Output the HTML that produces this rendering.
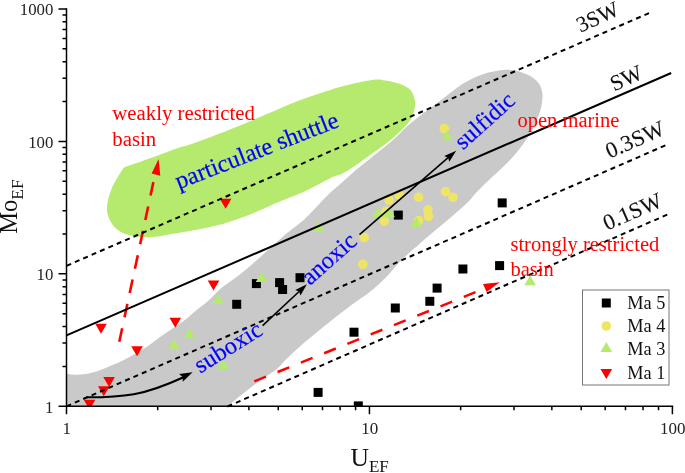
<!DOCTYPE html>
<html><head><meta charset="utf-8"><title>Mo-EF vs U-EF</title>
<style>html,body{margin:0;padding:0;background:#fff}svg{display:block}text{font-family:"Liberation Serif",serif}</style></head><body>
<svg width="685" height="473" viewBox="0 0 685 473">
<rect width="685" height="473" fill="#fff"/>
<defs><clipPath id="plot"><rect x="66.5" y="0" width="618.5" height="406.3"/></clipPath></defs>
<g clip-path="url(#plot)">
<path d="M66.0,373.5 C67.5,373.7 72.0,374.7 75.2,374.8 C78.4,374.9 81.6,374.7 85.4,374.1 C89.2,373.5 93.8,372.4 98.0,371.0 C102.2,369.6 106.5,367.6 110.7,365.8 C114.9,364.0 119.2,362.3 123.4,360.2 C127.6,358.1 131.9,355.8 136.1,353.3 C140.3,350.8 144.6,348.3 148.8,345.4 C153.0,342.5 157.2,339.0 161.4,336.0 C165.6,333.0 169.9,330.4 174.1,327.5 C178.3,324.6 183.2,321.2 186.8,318.5 C190.4,315.8 191.9,313.9 195.4,311.0 C198.9,308.1 203.8,304.7 208.0,301.0 C212.2,297.3 216.5,292.2 220.7,288.6 C224.9,285.0 229.2,282.5 233.4,279.3 C237.6,276.1 241.9,273.0 246.1,269.5 C250.3,266.0 254.6,262.1 258.8,258.3 C263.0,254.6 267.2,250.8 271.4,247.0 C275.6,243.2 279.9,239.1 284.1,235.5 C288.3,231.9 293.2,228.4 296.8,225.5 C300.4,222.6 301.9,221.7 305.4,218.3 C308.9,214.9 313.8,209.5 318.0,205.2 C322.2,200.9 326.5,196.3 330.7,192.3 C334.9,188.3 339.2,185.1 343.4,181.3 C347.6,177.6 351.9,173.4 356.1,169.8 C360.3,166.2 364.6,163.1 368.8,159.7 C373.0,156.3 377.2,152.9 381.4,149.5 C385.6,146.1 389.9,142.8 394.1,139.0 C398.3,135.2 402.1,130.7 406.8,126.5 C411.5,122.3 418.0,117.4 422.3,114.0 C426.6,110.6 429.3,108.9 432.8,106.3 C436.3,103.7 439.9,101.0 443.4,98.3 C446.9,95.6 450.3,92.8 453.8,90.2 C457.3,87.6 460.4,85.2 464.5,82.8 C468.6,80.4 473.7,77.8 478.1,76.0 C482.5,74.2 486.6,73.0 490.8,72.0 C495.0,71.0 499.3,70.1 503.5,69.9 C507.7,69.7 511.9,69.8 516.1,70.7 C520.3,71.6 525.1,73.3 528.8,75.3 C532.5,77.3 536.2,79.9 538.5,82.9 C540.8,85.9 541.8,89.3 542.3,93.1 C542.8,96.9 542.5,101.1 541.5,105.8 C540.5,110.5 538.6,115.8 536.4,121.0 C534.1,126.2 531.6,131.4 528.0,137.0 C524.4,142.6 519.2,149.5 515.0,154.5 C510.8,159.5 507.3,162.8 503.0,167.0 C498.7,171.2 493.3,175.9 489.0,180.0 C484.7,184.1 480.6,188.0 477.0,191.8 C473.4,195.6 471.3,199.0 467.4,202.8 C463.5,206.6 458.9,210.3 453.8,214.7 C448.7,219.1 442.5,224.2 436.9,229.0 C431.3,233.8 426.1,238.0 420.0,243.4 C413.9,248.8 405.7,255.8 400.0,261.5 C394.3,267.2 390.9,272.5 385.9,277.5 C380.9,282.5 375.2,287.5 370.0,291.7 C364.8,295.9 360.0,298.7 354.6,302.7 C349.2,306.7 343.3,311.1 337.7,315.5 C332.1,319.9 326.4,324.4 320.8,329.0 C315.2,333.6 309.5,338.1 303.8,343.0 C298.1,347.9 291.4,354.2 286.9,358.5 C282.4,362.8 281.3,365.3 276.8,369.0 C272.3,372.7 266.1,376.0 260.0,380.5 C253.9,385.0 245.4,391.7 240.0,396.0 C234.6,400.3 229.6,404.8 227.5,406.5 L66,406.5 Z" fill="#c9c9c9"/>
<path d="M127.0,166.3 C123.3,167.7 125.0,167.0 124.2,167.6 C123.4,168.2 124.3,166.5 122.2,170.0 C120.1,173.5 114.1,182.6 111.6,188.8 C109.1,195.0 107.2,202.0 107.0,207.4 C106.8,212.8 108.2,217.3 110.5,221.4 C112.8,225.5 116.1,229.3 120.9,231.9 C125.7,234.5 133.3,236.0 139.5,236.8 C145.7,237.6 153.0,236.9 158.1,236.5 C163.2,236.1 163.8,235.4 170.0,234.3 C176.2,233.2 187.0,231.6 195.4,230.0 C203.8,228.4 212.2,226.8 220.7,224.5 C229.1,222.2 236.2,219.8 246.1,216.0 C256.0,212.2 270.1,205.7 280.0,201.5 C289.9,197.3 296.9,194.9 305.4,191.0 C313.8,187.1 324.4,181.0 330.7,178.0 C337.0,175.0 338.8,175.4 343.0,173.2 C347.2,171.0 351.9,167.8 356.1,165.0 C360.3,162.2 363.8,159.5 368.0,156.5 C372.2,153.5 377.0,150.2 381.4,147.0 C385.8,143.8 389.5,141.2 394.1,137.0 C398.7,132.8 405.8,126.2 409.1,121.8 C412.5,117.4 413.2,114.0 414.2,110.4 C415.1,106.8 415.4,103.6 414.8,100.2 C414.2,96.8 412.8,92.8 410.4,90.1 C408.0,87.4 404.4,85.6 400.2,84.0 C396.0,82.4 389.7,81.2 385.0,80.5 C380.3,79.8 379.5,78.9 372.0,80.0 C364.5,81.1 352.0,83.6 340.0,87.0 C328.0,90.4 312.2,95.8 300.0,100.3 C287.8,104.8 278.7,109.1 267.0,114.0 C255.3,118.9 242.3,124.6 230.0,129.5 C217.7,134.4 201.9,140.3 193.0,143.5 C184.1,146.7 184.4,145.8 176.7,148.5 C168.9,151.2 154.8,156.5 146.5,159.5 C138.2,162.5 130.7,165.0 127.0,166.3Z" fill="#b5ea6e"/>
</g>
<path d="M119.3,341.7 L153.5,181.7" stroke="#ff0000" stroke-width="2.6" stroke-dasharray="13.8 11.1" fill="none"/>
<path d="M158.6,158.9 L151.6,173.6 L160.3,175.8 Z" fill="#ff0000"/>
<path d="M254.3,381.4 L476.5,291.8" stroke="#ff0000" stroke-width="2.5" stroke-dasharray="12.6 12.5" fill="none"/>
<path d="M499.8,282.3 L483,284 L486.6,292 Z" fill="#ff0000"/>
<g clip-path="url(#plot)">
<rect x="232.2" y="299.8" width="9" height="9" fill="#000"/>
<rect x="251.9" y="279.1" width="9" height="9" fill="#000"/>
<rect x="275.1" y="278.1" width="9" height="9" fill="#000"/>
<rect x="278.1" y="285.0" width="9" height="9" fill="#000"/>
<rect x="295.5" y="273.2" width="9" height="9" fill="#000"/>
<rect x="349.5" y="327.7" width="9" height="9" fill="#000"/>
<rect x="393.8" y="210.6" width="9" height="9" fill="#000"/>
<rect x="497.7" y="198.4" width="9" height="9" fill="#000"/>
<rect x="313.6" y="387.9" width="9" height="9" fill="#000"/>
<rect x="353.8" y="401.4" width="9" height="9" fill="#000"/>
<rect x="390.8" y="303.5" width="9" height="9" fill="#000"/>
<rect x="425.3" y="296.8" width="9" height="9" fill="#000"/>
<rect x="432.6" y="283.6" width="9" height="9" fill="#000"/>
<rect x="458.4" y="264.5" width="9" height="9" fill="#000"/>
<rect x="495.1" y="261.1" width="9" height="9" fill="#000"/>
<circle cx="444.2" cy="128.5" r="4.8" fill="#eee567"/>
<circle cx="399.0" cy="195.0" r="4.8" fill="#eee567"/>
<circle cx="389.1" cy="200.0" r="4.8" fill="#eee567"/>
<circle cx="418.6" cy="197.3" r="4.8" fill="#eee567"/>
<circle cx="445.5" cy="191.7" r="4.8" fill="#eee567"/>
<circle cx="453.0" cy="197.3" r="4.8" fill="#eee567"/>
<circle cx="427.8" cy="209.8" r="4.8" fill="#eee567"/>
<circle cx="428.5" cy="216.3" r="4.8" fill="#eee567"/>
<circle cx="418.6" cy="220.6" r="4.8" fill="#eee567"/>
<circle cx="384.2" cy="221.2" r="4.8" fill="#eee567"/>
<circle cx="385.9" cy="211.4" r="4.8" fill="#eee567"/>
<circle cx="364.2" cy="237.5" r="4.8" fill="#eee567"/>
<circle cx="362.8" cy="264.3" r="4.8" fill="#eee567"/>
<path d="M168.2,348.8 L179.8,348.8 L174.0,338.8 Z" fill="#b5ea6e"/>
<path d="M183.6,338.3 L195.2,338.3 L189.4,328.3 Z" fill="#b5ea6e"/>
<path d="M212.2,303.9 L223.8,303.9 L218.0,293.9 Z" fill="#b5ea6e"/>
<path d="M217.0,369.1 L228.6,369.1 L222.8,359.1 Z" fill="#b5ea6e"/>
<path d="M255.8,281.9 L267.4,281.9 L261.6,271.9 Z" fill="#b5ea6e"/>
<path d="M312.8,231.8 L324.4,231.8 L318.6,221.8 Z" fill="#b5ea6e"/>
<path d="M441.3,140.3 L452.9,140.3 L447.1,130.3 Z" fill="#b5ea6e"/>
<path d="M371.9,217.3 L383.5,217.3 L377.7,207.3 Z" fill="#b5ea6e"/>
<path d="M383.3,217.3 L394.9,217.3 L389.1,207.3 Z" fill="#b5ea6e"/>
<path d="M410.5,227.2 L422.1,227.2 L416.3,217.2 Z" fill="#b5ea6e"/>
<path d="M524.3,285.3 L535.9,285.3 L530.1,275.3 Z" fill="#b5ea6e"/>
<path d="M83.7,399.7 L95.3,399.7 L89.5,409.7 Z" fill="#ff0000"/>
<path d="M98.0,386.3 L109.6,386.3 L103.8,396.3 Z" fill="#ff0000"/>
<path d="M103.3,377.1 L114.9,377.1 L109.1,387.1 Z" fill="#ff0000"/>
<path d="M95.2,323.7 L106.8,323.7 L101.0,333.7 Z" fill="#ff0000"/>
<path d="M131.2,346.3 L142.8,346.3 L137.0,356.3 Z" fill="#ff0000"/>
<path d="M169.5,317.8 L181.1,317.8 L175.3,327.8 Z" fill="#ff0000"/>
<path d="M207.7,280.5 L219.3,280.5 L213.5,290.5 Z" fill="#ff0000"/>
<path d="M219.8,198.8 L231.4,198.8 L225.6,208.8 Z" fill="#ff0000"/>
</g>
<path d="M86.2,397.3 C105,397.4 120,396.6 133.8,394.2 C150,391.4 166,385.2 183.5,377.2" stroke="#000" stroke-width="2.1" fill="none"/>
<path d="M192.6,372.2 L182.8,381.7 L182.6,377.1 L179.1,374.1 Z" fill="#000"/>
<path d="M306.9,284.2 L300.5,295.6 L299.1,291.5 L295.2,289.9 Z" fill="#000"/>
<path d="M262.6,325.65 L299.1,291.5" stroke="#000" stroke-width="1.6" fill="none"/>
<path d="M456.2,150.7 L449.3,161.8 L448.1,157.7 L444.2,155.9 Z" fill="#000"/>
<path d="M359.5,234.6 L448.1,157.7" stroke="#000" stroke-width="1.6" fill="none"/>
<line x1="66.5" y1="265.8" x2="649.8" y2="12.8" stroke="#000" stroke-width="2.0" stroke-dasharray="5.0 4.13"/>
<line x1="66.5" y1="335.4" x2="671.2" y2="73.0" stroke="#000" stroke-width="2.0"/>
<line x1="66.5" y1="406.3" x2="665.8" y2="145.2" stroke="#000" stroke-width="2.0" stroke-dasharray="5.0 4.13"/>
<line x1="227.5" y1="406.5" x2="668.7" y2="214.0" stroke="#000" stroke-width="2.0" stroke-dasharray="5.0 4.13"/>
<path d="M66.5,8.2 L66.5,406.3 L673.1999999999999,406.3" stroke="#000" stroke-width="1.5" fill="none"/>
<path d="M58.5,406.30 H66.5 M62.5,366.43 H66.5 M62.5,343.11 H66.5 M62.5,326.57 H66.5 M62.5,313.73 H66.5 M62.5,303.25 H66.5 M62.5,294.38 H66.5 M62.5,286.70 H66.5 M62.5,279.93 H66.5 M58.5,273.87 H66.5 M62.5,234.00 H66.5 M62.5,210.68 H66.5 M62.5,194.13 H66.5 M62.5,181.30 H66.5 M62.5,170.81 H66.5 M62.5,161.95 H66.5 M62.5,154.27 H66.5 M62.5,147.49 H66.5 M58.5,141.43 H66.5 M62.5,101.57 H66.5 M62.5,78.25 H66.5 M62.5,61.70 H66.5 M62.5,48.87 H66.5 M62.5,38.38 H66.5 M62.5,29.51 H66.5 M62.5,21.83 H66.5 M62.5,15.06 H66.5 M58.5,9.00 H66.5 M66.50,406.3 V414.3 M157.70,406.3 V410.3 M211.04,406.3 V410.3 M248.89,406.3 V410.3 M278.25,406.3 V410.3 M302.24,406.3 V410.3 M322.52,406.3 V410.3 M340.09,406.3 V410.3 M355.59,406.3 V410.3 M369.45,406.3 V414.3 M460.65,406.3 V410.3 M513.99,406.3 V410.3 M551.84,406.3 V410.3 M581.20,406.3 V410.3 M605.19,406.3 V410.3 M625.47,406.3 V410.3 M643.04,406.3 V410.3 M658.54,406.3 V410.3 M672.40,406.3 V414.3" stroke="#000" stroke-width="1.5" fill="none"/>
<text x="53.3" y="412.5" font-size="16.8" text-anchor="end" fill="#222">1</text>
<text x="53.3" y="280.1" font-size="16.8" text-anchor="end" fill="#222">10</text>
<text x="53.3" y="147.6" font-size="16.8" text-anchor="end" fill="#222">100</text>
<text x="53.3" y="15.2" font-size="16.8" text-anchor="end" fill="#222">1000</text>
<text x="66.8" y="434.2" font-size="17" text-anchor="middle" fill="#222">1</text>
<text x="369.8" y="434.2" font-size="17" text-anchor="middle" fill="#222">10</text>
<text x="672.7" y="434.2" font-size="17" text-anchor="middle" fill="#222">100</text>
<text transform="translate(16.8,233.8) rotate(-90)" font-size="24.6" fill="#111">Mo<tspan font-size="17.5" dy="5.8">EF</tspan></text>
<text x="350.5" y="466" font-size="25.6" fill="#111">U<tspan font-size="17" dy="6">EF</tspan></text>
<text x="112.3" y="119.6" font-size="20.8" fill="#ff0000">weakly restricted</text>
<text x="112.3" y="145.7" font-size="20.8" fill="#ff0000">basin</text>
<text x="517.5" y="126.9" font-size="20.5" fill="#ff0000">open marine</text>
<text x="510.4" y="251.4" font-size="20.55" fill="#ff0000">strongly restricted</text>
<text x="510.4" y="275.5" font-size="20.55" fill="#ff0000">basin</text>
<text transform="translate(178.8,189.3) rotate(-21.3)" font-size="24.3" fill="#0000ff" stroke="#0000ff" stroke-width="0.2">particulate shuttle</text>
<text transform="translate(200.3,373.7) rotate(-32.0)" font-size="24.2" fill="#0000ff" stroke="#0000ff" stroke-width="0.2">suboxic</text>
<text transform="translate(310,285.9) rotate(-41.6)" font-size="24.2" fill="#0000ff" stroke="#0000ff" stroke-width="0.2">anoxic</text>
<text transform="translate(462.9,150.6) rotate(-42.0)" font-size="24" fill="#0000ff" stroke="#0000ff" stroke-width="0.2">sulfidic</text>
<text transform="translate(580.6,32.8) rotate(-24.8)" font-size="22" fill="#111" stroke="#111" stroke-width="0.1">3SW</text>
<text transform="translate(614.2,91.6) rotate(-24.6)" font-size="22" fill="#111" stroke="#111" stroke-width="0.1">SW</text>
<text transform="translate(609.4,158.8) rotate(-23.6)" font-size="22.5" fill="#111" stroke="#111" stroke-width="0.1">0.3SW</text>
<text transform="translate(607,230.7) rotate(-23.6)" font-size="22.5" fill="#111" stroke="#111" stroke-width="0.1">0.1SW</text>
<rect x="582.5" y="290" width="86.5" height="95" fill="#fff" stroke="#777" stroke-width="1"/>
<rect x="601.8" y="298.5" width="9" height="9" fill="#000"/>
<circle cx="606.3" cy="326" r="4.8" fill="#eee567"/>
<path d="M600.5,352.0 L612.1,352.0 L606.3,342.0 Z" fill="#b5ea6e"/>
<path d="M600.5,369.0 L612.1,369.0 L606.3,379.0 Z" fill="#ff0000"/>
<text x="627.2" y="309" font-size="18.3" fill="#111">Ma 5</text>
<text x="627.2" y="332" font-size="18.3" fill="#111">Ma 4</text>
<text x="627.2" y="354.5" font-size="18.3" fill="#111">Ma 3</text>
<text x="627.2" y="378.5" font-size="18.3" fill="#111">Ma 1</text>
</svg></body></html>
